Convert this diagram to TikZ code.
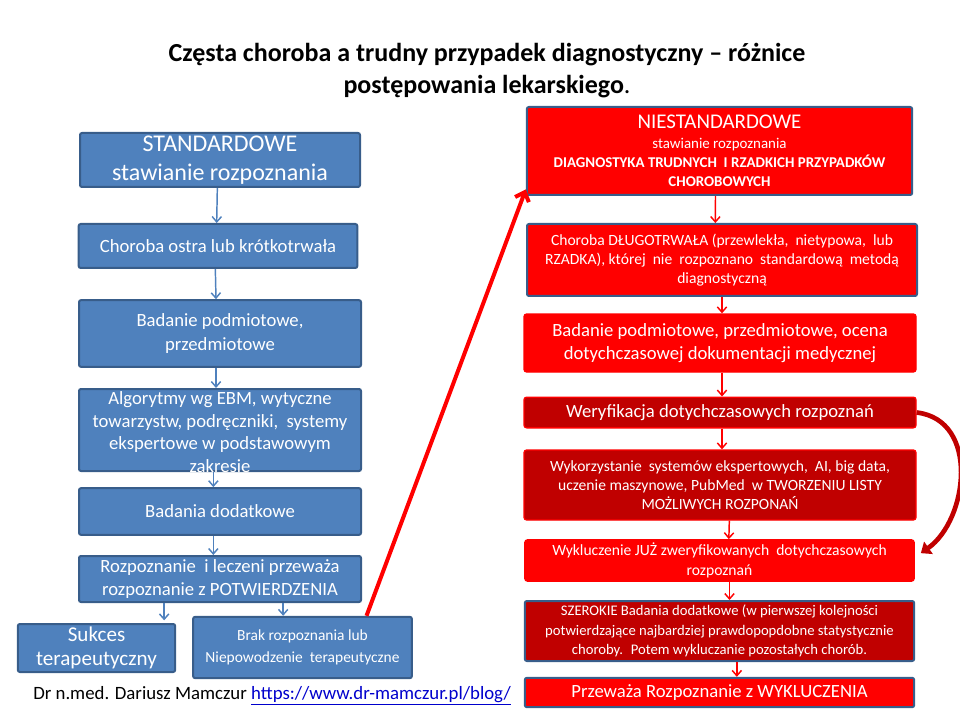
\documentclass[tikz,border=0pt]{standalone}
\usepackage{fontspec}
\setmainfont{Carlito}
\usetikzlibrary{arrows.meta, positioning, calc}
\definecolor{BoxBlue}{HTML}{4F81BD}
\definecolor{BoxBlueLine}{HTML}{385D8A}
\definecolor{BoxRed}{HTML}{FF0000}
\definecolor{BoxDarkRed}{HTML}{C00000}
\definecolor{LinkBlue}{HTML}{0000CC}

\begin{document}
\begin{tikzpicture}[
    x=0.75pt, y=-0.75pt,
    bluebox/.style={
        rectangle, rounded corners=1.5pt, draw=BoxBlueLine,
        line width=1.5pt, fill=BoxBlue, text=white,
        align=center, inner sep=0pt
    },
    redbox/.style={
        rectangle, rounded corners=1.5pt, draw=BoxBlueLine,
        line width=1.5pt, fill=#1, text=white,
        align=center, inner sep=0pt
    },
    redbox/.default=BoxRed,
    flatbox/.style={
        rectangle, rounded corners=2pt, draw=BoxRed,
        line width=1pt, fill=#1, text=white,
        align=center, inner sep=0pt
    },
    flatbox/.default=BoxRed,
    bigtxt/.style={font=\fontsize{18}{21.75}\selectfont},
    midtxt/.style={font=\fontsize{14}{17.5}\selectfont},
    smalltxt/.style={font=\fontsize{11.7}{14.5}\selectfont},
    barr/.style={-{Straight Barb[length=4pt, width=7pt]}, line width=1.1pt, BoxBlue},
    rarr/.style={-{Straight Barb[length=4pt, width=7pt]}, line width=1.1pt, BoxRed}
]
\useasboundingbox (0,0) rectangle (960,720);

% ===================================================================
% TITLE
% ===================================================================
\node[font=\fontsize{19.5}{24}\selectfont\bfseries, align=center] (title) at (487,71)
    {Częsta choroba a trudny przypadek diagnostyczny – różnice\\
     postępowania lekarskiego{\normalfont .}};

% ===================================================================
% STANDARD PATH (left column)
% ===================================================================
\node[bluebox, bigtxt, minimum width=210pt, minimum height=40.5pt] (std) at (220,160)
    {STANDARDOWE\\stawianie rozpoznania};

\node[bluebox, midtxt, minimum width=209pt, minimum height=33pt] (acute) at (218,246)
    {Choroba ostra lub krótkotrwała};

\node[bluebox, midtxt, minimum width=211.5pt, minimum height=50pt] (exam) at (220,333.5)
    {Badanie podmiotowe,\\przedmiotowe};

\node[bluebox, minimum width=211.5pt, minimum height=61.5pt] (ebm) at (220,430)
    {};
\node[text=white, align=center, font=\fontsize{14}{17}\selectfont] (ebmtxt) at (220,432)
    {Algorytmy wg EBM, wytyczne\\
     towarzystw, podręczniki,~ systemy\\
     ekspertowe w podstawowym\\
     zakresie};

\node[bluebox, midtxt, minimum width=211.5pt, minimum height=35pt] (extra) at (220,511.5)
    {Badania dodatkowe};

\node[bluebox, midtxt, minimum width=211.5pt, minimum height=34.5pt] (confirm) at (220,579)
    {Rozpoznanie~ i leczeni przeważa\\rozpoznanie z POTWIERDZENIA};

\node[bluebox, font=\fontsize{15.8}{18}\selectfont,
      minimum width=118pt, minimum height=36pt] (success) at (96.5,648)
    {Sukces\\terapeutyczny};

\node[bluebox, font=\fontsize{11.6}{17}\selectfont,
      minimum width=164pt, minimum height=46pt] (failure) at (302.5,647.5)
    {Brak rozpoznania lub\\Niepowodzenie~ terapeutyczne};

\draw[barr] ([xshift=-2pt]std.south) -- ([xshift=-1pt]acute.north);
\draw[barr] ([xshift=-2pt]acute.south) -- ([xshift=-3pt]exam.north);
\draw[barr] ([xshift=-3pt]exam.south) -- ([xshift=-3pt]ebm.north);
\draw[barr] ([xshift=-5pt]ebm.south) -- ([xshift=-5pt]extra.north);
\draw[barr] ([xshift=-5pt]extra.south) -- ([xshift=-5pt]confirm.north);
\draw[barr] ([xshift=-9pt]success.north east |- confirm.south)
    -- ([xshift=-9pt, yshift=2pt]success.north east);
\draw[barr] ([xshift=-14.5pt]failure.north |- confirm.south)
    -- ([xshift=-14.5pt]failure.north);

% ===================================================================
% NON-STANDARD PATH (right column)
% ===================================================================
\node[redbox, font=\fontsize{11.2}{14.5}\selectfont,
      minimum width=289pt, minimum height=66pt] (niest) at (719.5,151)
    {{\fontsize{15.7}{16}\selectfont NIESTANDARDOWE}\\[0pt]
     stawianie rozpoznania\\
     \textbf{DIAGNOSTYKA TRUDNYCH~ I RZADKICH PRZYPADKÓW}\\
     \textbf{CHOROBOWYCH}};

\node[redbox, smalltxt, minimum width=292.5pt, minimum height=54pt] (chronic) at (722,260)
    {Choroba DŁUGOTRWAŁA (przewlekła,~ nietypowa,~ lub\\
     RZADKA), której~ nie~ rozpoznano~ standardową~ metodą\\
     diagnostyczną};

\node[flatbox, midtxt, minimum width=294pt, minimum height=43.5pt] (exam2) at (720,343)
    {Badanie podmiotowe, przedmiotowe, ocena\\
     dotychczasowej dokumentacji medycznej};

\node[flatbox=BoxDarkRed, midtxt, minimum width=294pt, minimum height=23pt] (verify) at (720,412.5)
    {Weryfikacja dotychczasowych rozpoznań};

\node[flatbox=BoxDarkRed, smalltxt, minimum width=294pt, minimum height=52.5pt] (expert) at (720,485)
    {Wykorzystanie~ systemów ekspertowych,~ AI, big data,\\
     uczenie maszynowe, PubMed~ w TWORZENIU LISTY\\
     MOŻLIWYCH ROZPONAŃ};

\node[flatbox, smalltxt, minimum width=292pt, minimum height=31pt] (exclude) at (719.5,560.5)
    {Wykluczenie JUŻ zweryfikowanych~ dotychczasowych\\rozpoznań};

\node[redbox=BoxDarkRed, font=\fontsize{11}{14.5}\selectfont,
      minimum width=292pt, minimum height=45pt] (broad) at (719.5,631)
    {SZEROKIE Badania dodatkowe (w pierwszej kolejności\\
     potwierdzające najbardziej prawdopopdobne statystycznie\\
     choroby.~ Potem wykluczanie pozostałych chorób.};

\node[redbox, midtxt, minimum width=292pt, minimum height=22pt] (result) at (719.5,692.5)
    {Przeważa Rozpoznanie z WYKLUCZENIA};

\draw[rarr] ([xshift=-3pt]niest.south) -- ([xshift=-5pt]chronic.north);
\draw[rarr] ([xshift=0pt]chronic.south) -- ([xshift=1.5pt]exam2.north);
\draw[rarr] ([xshift=1.5pt]exam2.south) -- ([xshift=1.5pt]verify.north);
\draw[rarr] ([xshift=1.5pt]verify.south) -- ([xshift=1.5pt]expert.north);
\draw[rarr] ([xshift=7pt]expert.south) -- ([xshift=7pt]exclude.north);
\draw[rarr] ([xshift=7.5pt]exclude.south) -- ([xshift=7.5pt]broad.north);
\draw[rarr] ([xshift=13pt]broad.south) -- ([xshift=13pt]result.north);

% failure -> non-standard path
\draw[-{Straight Barb[length=6pt, width=11pt]}, line width=3pt, BoxRed]
    ([xshift=48pt]failure.north) -- ([yshift=5pt]niest.south west);

% verification feeds straight into exclusion
\coordinate (loopend) at ([xshift=4.5pt, yshift=5.5pt]exclude.east);
\draw[-{Triangle[length=7pt, width=11pt]}, line width=3.5pt, BoxDarkRed]
    (verify.east) .. controls (980,420) and (968,520) .. (loopend);

% ===================================================================
% FOOTER
% ===================================================================
\node[anchor=west, font=\fontsize{14.1}{15}\selectfont, inner sep=0pt] (author) at (33,696)
    {Dr n.med. Dariusz Mamczur \textcolor{LinkBlue}{\underline{https://www.dr-mamczur.pl/blog/}}};

\end{tikzpicture}
\end{document}
